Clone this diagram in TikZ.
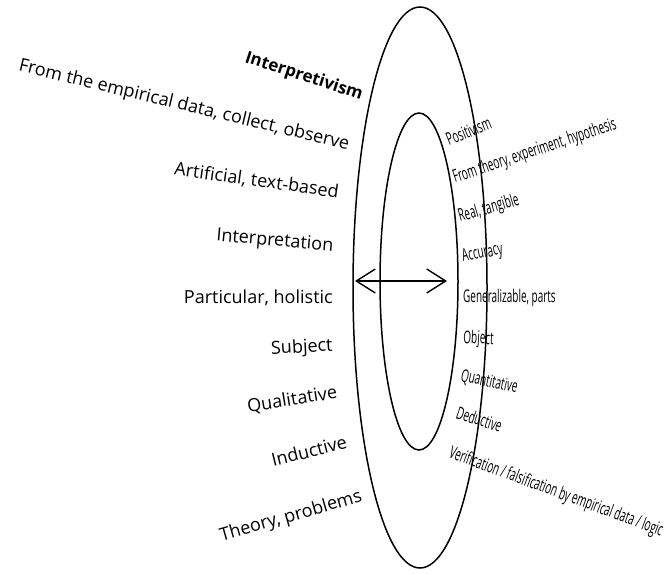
\documentclass[tikz,border=0pt]{standalone}
\usepackage{fontspec}
\setmainfont{Open Sans}
\newfontfamily\condfont[FakeStretch=0.57]{Open Sans}
\usetikzlibrary{arrows.meta}
\begin{document}
\begin{tikzpicture}[x=1pt,y=-1pt,
  ring/.style={line width=1.5pt},
  lefttext/.style={anchor=base east,inner sep=0pt,font=\fontsize{18}{21}\selectfont},
  righttext/.style={anchor=base west,inner sep=0pt,font=\condfont\fontsize{17.5}{20}\selectfont},
  link/.style={line width=1.4pt,{Straight Barb[length=19pt,width=24pt]}-{Straight Barb[length=19pt,width=24pt]}}]
\useasboundingbox (0,0) rectangle (664,573);
% the two nested ellipses
\draw[ring] (420,287.5) ellipse (67 and 280.5);
\draw[ring] (419,281.5) ellipse (39 and 168.5);
% two-way arrow across the rings
\coordinate (arrL) at (355,281);
\coordinate (arrR) at (447,281);
\draw[link] (arrL) -- (arrR);
% left-hand column
\node[lefttext,font=\bfseries\fontsize{17}{20}\selectfont,rotate=-18] (interp) at (361,100) {Interpretivism};
\node[lefttext,rotate=-13.5] (l1) at (348,150) {From the empirical data, collect, observe};
\node[lefttext,rotate=-8] (l2) at (338,198) {Artificial, text-based};
\node[lefttext,rotate=-5] (l3) at (333,251) {Interpretation};
\node[lefttext,rotate=0] (l4) at (333,303) {Particular, holistic};
\node[lefttext,rotate=3] (l5) at (333,351) {Subject};
\node[lefttext,rotate=9] (l6) at (338,398) {Qualitative};
\node[lefttext,rotate=14] (l7) at (348,448) {Inductive};
\node[lefttext,rotate=16] (l8) at (363,501) {Theory, problems};
% right-hand column
\node[righttext,rotate=22] (posit) at (449,146) {Positivism};
\node[righttext,rotate=18.5] (r1) at (455,183) {From theory, experiment, hypothesis};
\node[righttext,rotate=16] (r2) at (460,222) {Real, tangible};
\node[righttext,rotate=11] (r3) at (463,262) {Accuracy};
\node[righttext,rotate=0] (r4) at (463,302) {Generalizable, parts};
\node[righttext,rotate=-3] (r5) at (463,343) {Object};
\node[righttext,rotate=-12] (r6) at (460,381) {Quantitative};
\node[righttext,rotate=-18] (r7) at (455,418) {Deductive};
\node[righttext,rotate=-20.5] (r8) at (448,457) {Verification / falsification by empirical data / logic};
\end{tikzpicture}
\end{document}
